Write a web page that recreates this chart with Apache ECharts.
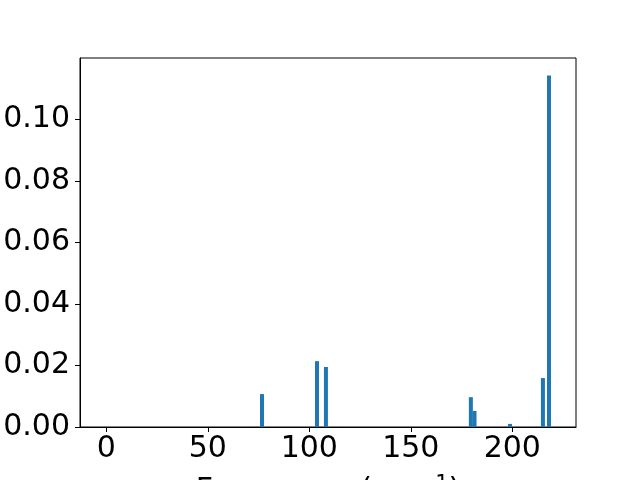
<!DOCTYPE html>
<html>
<head>
<meta charset="utf-8">
<script src="https://cdn.jsdelivr.net/npm/echarts@6/dist/echarts.min.js"></script>
<style>html,body{margin:0;padding:0;background:#fff}#c{width:640px;height:480px}</style>
</head>
<body>
<div id="c"></div>
<script>
const frequencies = [76.7, 103.8, 108.2, 179.6, 181.4, 198.9, 215.1, 218.1];
const intensities = [0.0107, 0.0214, 0.0195, 0.0097, 0.0052, 0.0010, 0.0159, 0.1142];
const xTicks = [0, 50, 100, 150, 200];
const yTicks = [0, 0.02, 0.04, 0.06, 0.08, 0.10];

const chart = echarts.init(document.getElementById('c'), null, {renderer: 'canvas'});
const font = 'DejaVu Sans';
chart.setOption({
  animation: false,
  grid: {left: 80, right: 64, top: 58, bottom: 53, show: true, borderColor: '#000', borderWidth: 1,
    backgroundColor: 'transparent', containLabel: false, outerBoundsMode: 'none'},
  xAxis: {
    type: 'value', min: -12.96, max: 231.4,
    name: 'Frequency (cm{sup|\u22121})', nameLocation: 'middle', nameGap: 47, nameMoveOverlap: false,
    nameTextStyle: {fontFamily: font, fontSize: 30, color: '#000',
      rich: {sup: {fontFamily: font, fontSize: 21, color: '#000', verticalAlign: 'top', padding: [0,0,14,0]}}},
    axisLine: {show: true, onZero: false, lineStyle: {color: '#000', width: 1}},
    axisTick: {show: true, length: 5, customValues: xTicks, lineStyle: {color: '#000'}},
    axisLabel: {customValues: xTicks, fontFamily: font, fontSize: 30, color: '#000', margin: 7},
    splitLine: {show: false}
  },
  yAxis: {
    type: 'value', min: 0, max: 0.1199,
    axisLine: {show: true, onZero: false, lineStyle: {color: '#000', width: 1}},
    axisTick: {show: true, length: 5, customValues: yTicks, lineStyle: {color: '#000'}},
    axisLabel: {customValues: yTicks, fontFamily: font, fontSize: 30, color: '#000', margin: 10,
      formatter: v => v.toFixed(2)},
    splitLine: {show: false}
  },
  series: [{
    type: 'bar', barWidth: 4,
    itemStyle: {color: '#1f77b4'},
    data: frequencies.map((f, i) => [f, intensities[i]])
  }]
});
</script>
</body>
</html>
